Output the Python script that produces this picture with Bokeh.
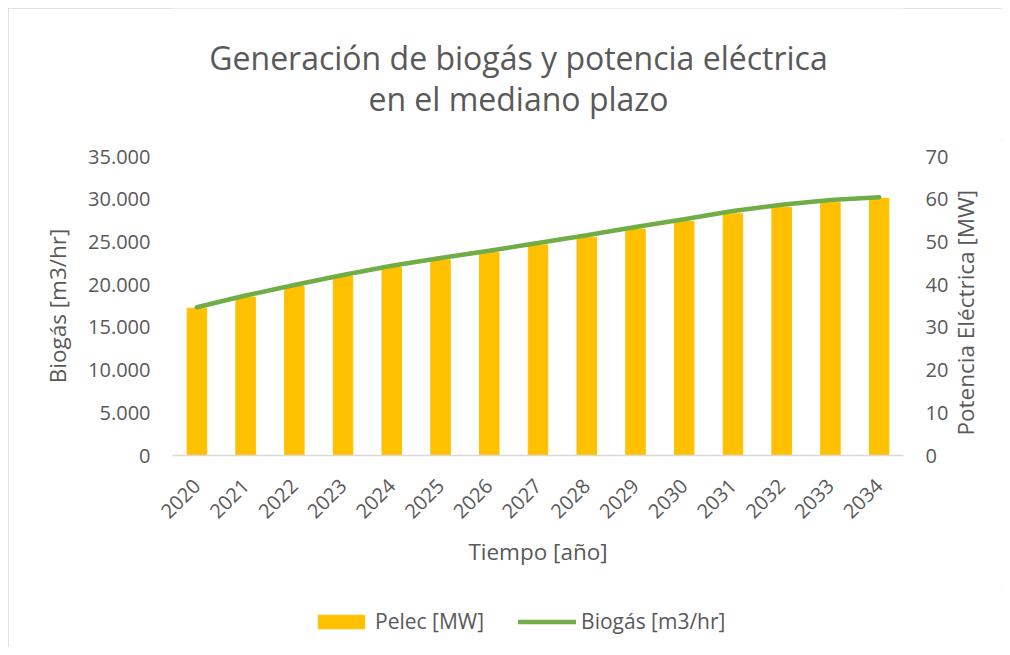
import math
from bokeh.plotting import figure
from bokeh.layouts import column
from bokeh.models import (FactorRange, Range1d, LinearAxis, Label, Legend, LegendItem,
                          CustomJSTickFormatter, FixedTicker)
from bokeh.embed import file_html
from bokeh.resources import INLINE

years = [str(y) for y in range(2020, 2035)]
pelec_mw = [34.5, 37.1, 39.6, 41.9, 44.0, 45.8, 47.5, 49.3, 51.1, 53.0, 54.8, 56.6, 58.1, 59.2, 60.2]
biogas_m3hr = [17360, 18730, 19960, 21130, 22210, 23120, 23960, 24870, 25790, 26750,
               27650, 28620, 29350, 29910, 30240]
left_ticks = [0, 5000, 10000, 15000, 20000, 25000, 30000, 35000]
right_ticks = [0, 10, 20, 30, 40, 50, 60, 70]
title_lines = ["Generación de biogás y potencia eléctrica", "en el mediano plazo"]
right_title = "Potencia Eléctrica [MW]"

FONT = "Open Sans"
TXT = "#595959"
BAR = "#FFC000"
LINE = "#70AD47"
W = 994


def bare(fig):
    fig.outline_line_color = None
    fig.xgrid.visible = False
    fig.ygrid.visible = False
    return fig


# ---- title strip (frame is aligned with the main frame: x 164..895) -----
ft = bare(figure(width=W, height=132, x_range=Range1d(164, 895), y_range=Range1d(132, 0),
                 x_axis_location=None, y_axis_location=None,
                 output_backend="svg", toolbar_location=None,
                 min_border=0, min_border_left=0, min_border_right=0,
                 min_border_top=0, min_border_bottom=0))
for txt, base in zip(title_lines, [49, 90]):
    ft.add_layout(Label(x=510, y=base, text=txt, text_align="center",
                        text_baseline="alphabetic", text_font=FONT,
                        text_font_size="32px", text_color=TXT))

# ---- main chart ----------------------------------------------------------
p = bare(figure(width=W, height=450,
                x_range=FactorRange(*years, range_padding=0),
                y_range=Range1d(0, 35000),
                output_backend="svg", toolbar_location=None,
                min_border_left=164, min_border_right=99,
                min_border_top=16, min_border_bottom=135))
p.extra_y_ranges = {"mw": Range1d(0, 70)}

bars = p.vbar(x=years, top=pelec_mw, width=0.4, y_range_name="mw",
              fill_color=BAR, line_color=BAR)
line = p.line(x=years, y=biogas_m3hr, line_width=4.5, line_color=LINE, line_cap="round")


def style_axis(ax):
    ax.major_tick_out = 0
    ax.major_tick_in = 0
    ax.minor_tick_out = 0
    ax.minor_tick_in = 0
    ax.axis_line_color = None
    ax.major_label_text_font = FONT
    ax.major_label_text_color = TXT
    ax.major_label_text_font_size = "20px"
    ax.axis_label_text_font = FONT
    ax.axis_label_text_color = TXT
    ax.axis_label_text_font_size = "22.5px"
    ax.axis_label_text_font_style = "normal"


yl = p.yaxis[0]
style_axis(yl)
yl.ticker = FixedTicker(ticks=left_ticks)
yl.formatter = CustomJSTickFormatter(
    code="return tick.toFixed(0).replace(/\\B(?=(\\d{3})+(?!\\d))/g, '.');")
yl.axis_label = "Biogás [m3/hr]"
yl.major_label_standoff = 22
yl.axis_label_standoff = 12

yr = LinearAxis(y_range_name="mw", ticker=FixedTicker(ticks=right_ticks))
style_axis(yr)
yr.major_label_standoff = 22
p.add_layout(yr, "right")

# right-axis title, reading bottom-to-top, drawn as a rotated label that
# starts near the bottom of the plot area
mw_per_px = 70 / 299
title_start = 20 * mw_per_px
yt = LinearAxis(y_range_name="mw", ticker=FixedTicker(ticks=[title_start]),
                major_label_overrides={title_start: right_title})
style_axis(yt)
yt.major_label_text_font_size = "22.5px"
yt.major_label_orientation = math.pi / 2
yt.major_label_standoff = 14
p.add_layout(yt, "right")

xa = p.xaxis[0]
style_axis(xa)
xa.axis_line_color = "#D9D9D9"
xa.axis_line_width = 1.5
xa.major_label_orientation = math.pi / 4
xa.major_label_standoff = 27
xa.axis_label = "Tiempo [año]"
xa.axis_label_standoff = 8

# ---- legend strip --------------------------------------------------------
fl = bare(figure(width=W, height=57, x_range=Range1d(0, 1), y_range=Range1d(0, 1),
                 x_axis_location=None, y_axis_location=None,
                 output_backend="svg", toolbar_location=None,
                 min_border_left=0, min_border_right=0,
                 min_border_top=7, min_border_bottom=0))
# legend proxies (kept outside the visible range; they only supply legend swatches)
leg_bar = fl.vbar(x=[-9], top=[-9], width=0.4, fill_color=BAR, line_color=BAR)
leg_line = fl.line(x=[-9, -8], y=[-9, -9], line_width=4.5, line_color=LINE, line_cap="round")
legend = Legend(items=[LegendItem(label="Pelec [MW]", renderers=[leg_bar]),
                       LegendItem(label="Biogás [m3/hr]", renderers=[leg_line])],
                orientation="horizontal", location=(140, 12),
                border_line_color=None, background_fill_alpha=0,
                padding=0, margin=0, spacing=34, label_standoff=5,
                glyph_width=58, glyph_height=17,
                label_text_font=FONT, label_text_font_size="21px", label_text_color=TXT)
fl.add_layout(legend, "center")

layout = column(ft, p, fl, spacing=0)
layout.styles = {"transform": "translate(8px, 8px)",
                 "outline": "1px solid #D9D9D9", "outline-offset": "-1px"}

open("out.html", "w").write(file_html(layout, INLINE))
